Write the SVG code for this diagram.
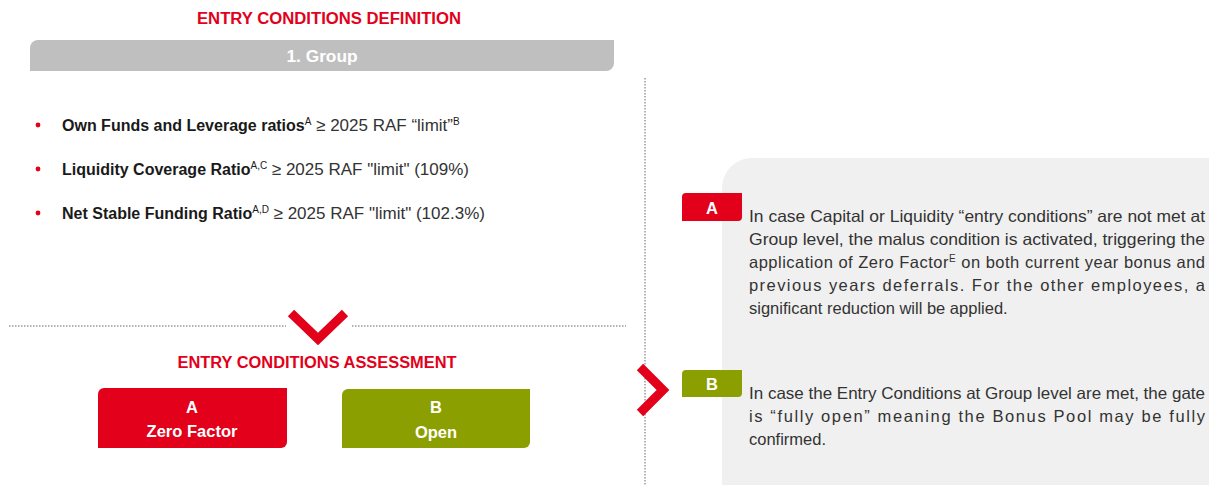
<svg xmlns="http://www.w3.org/2000/svg" width="1209" height="485" viewBox="0 0 1209 485">
<style>
.red{fill:#e2001a}
.olive{fill:#8c9f00}
.head{font-family:"Liberation Sans",Arial,sans-serif;font-weight:bold;font-size:16px;fill:#e2001a;text-anchor:middle}
.wb{font-family:"Liberation Sans",Arial,sans-serif;font-weight:bold;font-size:16.5px;fill:#fff;text-anchor:middle}
.bul{font-family:"Liberation Sans",Arial,sans-serif;font-size:16px;fill:#1a1a1a}
.reg{font-size:17px;fill:#333}
.par{font-family:"Liberation Sans",Arial,sans-serif;font-size:16.5px;fill:#333}
.dot{stroke:#9a9a9a;stroke-width:1.5;stroke-dasharray:1.5 1.5;fill:none}
.chev{fill:none;stroke:#e2001a;stroke-width:9}
</style>
<rect width="1209" height="485" fill="#fff"/>

<g id="title-definition">
<text class="head" x="329" y="24" textLength="264" lengthAdjust="spacingAndGlyphs">ENTRY CONDITIONS DEFINITION</text>
</g>

<g id="group-bar">
<path d="M38,40 H614 V63 A8,8 0 0 1 606,71 H30 V48 A8,8 0 0 1 38,40 Z" fill="#bfbfbf"/>
<text class="wb" x="322" y="62" font-size="17" textLength="71" lengthAdjust="spacingAndGlyphs">1. Group</text>
</g>

<g id="criteria">
<circle class="red" cx="38" cy="125" r="2.4"/>
<text class="bul" x="62" y="131"><tspan font-weight="bold">Own Funds and Leverage ratios</tspan><tspan font-size="10" dy="-6">A</tspan><tspan class="reg" dy="6"> ≥ 2025 RAF “limit”</tspan><tspan font-size="10" dy="-6">B</tspan></text>
<circle class="red" cx="38" cy="169" r="2.4"/>
<text class="bul" x="62" y="175"><tspan font-weight="bold">Liquidity Coverage Ratio</tspan><tspan font-size="10" dy="-6">A,C</tspan><tspan class="reg" dy="6"> ≥ 2025 RAF "limit" (109%)</tspan></text>
<circle class="red" cx="38" cy="213" r="2.4"/>
<text class="bul" x="62" y="219"><tspan font-weight="bold">Net Stable Funding Ratio</tspan><tspan font-size="10" dy="-6">A,D</tspan><tspan class="reg" dy="6"> ≥ 2025 RAF "limit" (102.3%)</tspan></text>
</g>

<g id="connectors">
<line class="dot" x1="645" y1="78" x2="645" y2="485"/>
<line class="dot" x1="9" y1="326" x2="286" y2="326"/>
<line class="dot" x1="352" y1="326" x2="626" y2="326"/>
<polyline class="chev" points="291,313 318,339 345,313"/>
<polyline class="chev" points="640,367 663,390 640,413"/>
</g>

<g id="title-assessment">
<text class="head" x="317" y="368" textLength="279" lengthAdjust="spacingAndGlyphs">ENTRY CONDITIONS ASSESSMENT</text>
</g>

<g id="box-a">
<path class="red" d="M104,388 H287 V442 A6,6 0 0 1 281,448 H98 V394 A6,6 0 0 1 104,388 Z"/>
<text class="wb" x="192" y="413">A</text>
<text class="wb" x="192" y="437">Zero Factor</text>
</g>

<g id="box-b">
<path class="olive" d="M348,389 H530 V442 A6,6 0 0 1 524,448 H342 V395 A6,6 0 0 1 348,389 Z"/>
<text class="wb" x="436" y="413">B</text>
<text class="wb" x="436" y="438">Open</text>
</g>

<g id="panel">
<path d="M752,158 H1209 V485 H722 V188 A30,30 0 0 1 752,158 Z" fill="#f0f0f0"/>
</g>

<g id="note-a">
<path class="red" d="M686,193 H742 V217 A4,4 0 0 1 738,221 H682 V197 A4,4 0 0 1 686,193 Z"/>
<text class="wb" x="712" y="214" font-size="15">A</text>
<text class="par" x="749" y="222" textLength="456" lengthAdjust="spacingAndGlyphs">In case Capital or Liquidity “entry conditions” are not met at</text>
<text class="par" x="749" y="245" textLength="456" lengthAdjust="spacingAndGlyphs">Group level, the malus condition is activated, triggering the</text>
<text class="par" x="749" y="268" textLength="456" lengthAdjust="spacing">application of Zero Factor<tspan font-size="10" dy="-6">E</tspan><tspan dy="6"> on both current year bonus and</tspan></text>
<text class="par" x="749" y="291" textLength="456" lengthAdjust="spacing">previous years deferrals. For the other employees, a</text>
<text class="par" x="749" y="314">significant reduction will be applied.</text>
</g>

<g id="note-b">
<path class="olive" d="M686,370 H742 V393 A4,4 0 0 1 738,397 H682 V374 A4,4 0 0 1 686,370 Z"/>
<text class="wb" x="712" y="390" font-size="15">B</text>
<text class="par" x="749" y="399" textLength="456" lengthAdjust="spacingAndGlyphs">In case the Entry Conditions at Group level are met, the gate</text>
<text class="par" x="749" y="422" textLength="456" lengthAdjust="spacing">is “fully open” meaning the Bonus Pool may be fully</text>
<text class="par" x="749" y="445">confirmed.</text>
</g>
</svg>
